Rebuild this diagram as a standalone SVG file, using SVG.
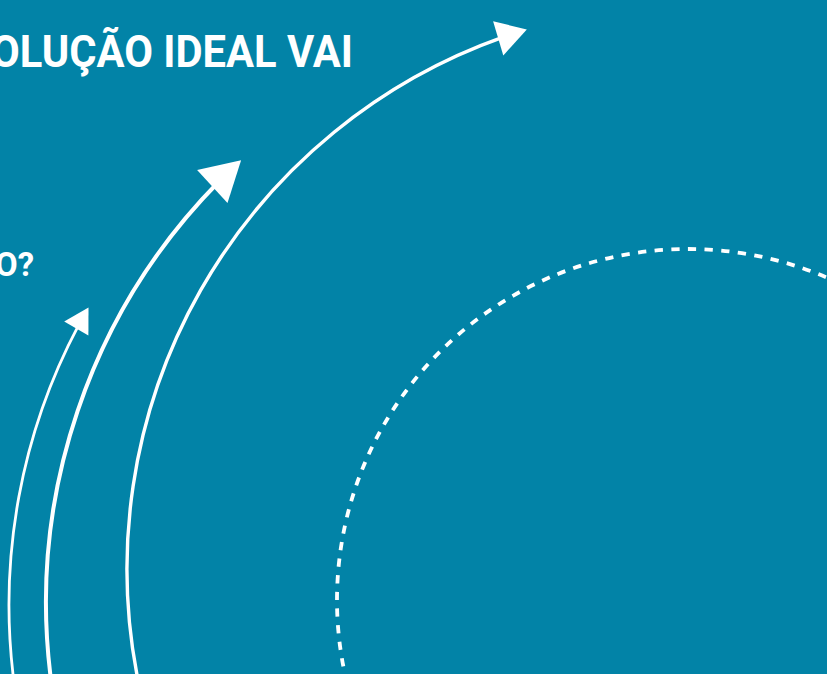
<svg xmlns="http://www.w3.org/2000/svg" width="827" height="674" viewBox="0 0 827 674">
  <style>
    .bg { fill: #0283a7; }
    .title { font-family: "Roboto", "Liberation Sans", "DejaVu Sans", sans-serif; font-weight: 700; fill: #ffffff; }
    .arc { fill: none; stroke: #ffffff; }
    .head { fill: #ffffff; stroke: none; }
    .orbit { fill: none; stroke: #ffffff; stroke-width: 3.8; stroke-dasharray: 8.3 8.4; }
  </style>

  <rect class="bg" x="0" y="0" width="827" height="674"/>

  <!-- headline fragments -->
  <g id="headline">
    <text class="title" x="-9" y="67" font-size="44" textLength="362" lengthAdjust="spacingAndGlyphs">OLUÇÃO IDEAL VAI</text>
  </g>
  <g id="question">
    <text class="title" x="-5" y="276" font-size="33" textLength="39" lengthAdjust="spacingAndGlyphs">O?</text>
  </g>

  <!-- dashed orbit -->
  <g id="orbit">
    <circle class="orbit" cx="688" cy="600" r="351"/>
  </g>

  <!-- rising arrows -->
  <g id="connectors">
    <g id="arrow-inner">
      <path class="arc" stroke-width="2.8" d="M 13.7 680 A 597 597 0 0 1 78.9 324.7"/>
      <polygon class="head" points="88.5,307.4 88.4,335.6 64.2,321.6"/>
    </g>
    <g id="arrow-middle">
      <path class="arc" stroke-width="4" d="M 51 680 A 600 600 0 0 1 219.5 181"/>
      <polygon class="head" points="241.1,160.2 227.5,203.1 197.1,169.9"/>
    </g>
    <g id="arrow-outer">
      <path class="arc" stroke-width="3.4" d="M 138 680 A 564 564 0 0 1 503.1 37.2"/>
      <polygon class="head" points="526.8,29.4 503.3,55.4 493.1,21.3"/>
    </g>
  </g>
</svg>
